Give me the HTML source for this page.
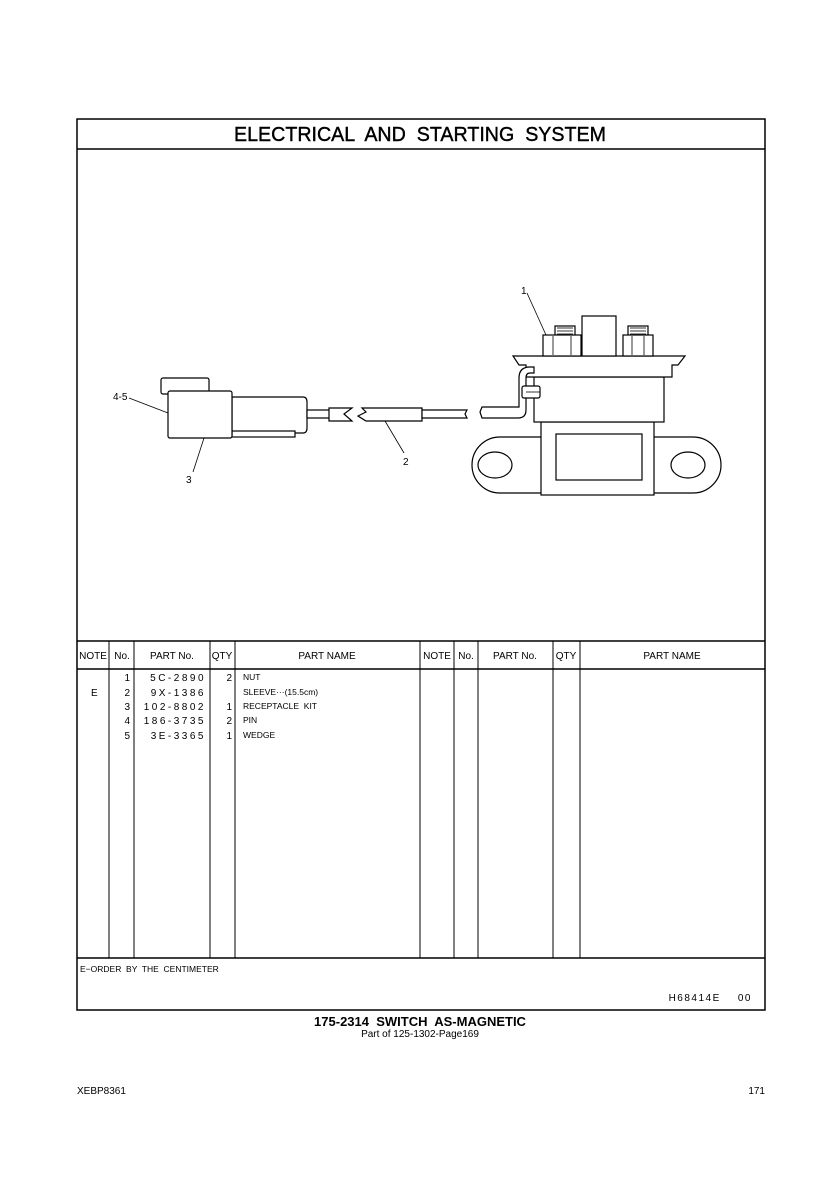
<!DOCTYPE html>
<html><head><meta charset="utf-8"><style>
html,body{margin:0;padding:0;background:#fff;}
svg{display:block;}
text{font-family:"Liberation Sans",sans-serif;fill:#000;white-space:pre;}
</style></head><body>
<svg width="840" height="1188" viewBox="0 0 840 1188" xmlns="http://www.w3.org/2000/svg" xml:space="preserve">
<g fill="none" stroke="#000" stroke-width="1.5">
<rect x="77" y="119" width="688" height="891"/>
<line x1="77" y1="149" x2="765" y2="149"/>
<line x1="77" y1="641" x2="765" y2="641"/>
<line x1="77" y1="669" x2="765" y2="669"/>
<line x1="77" y1="958" x2="765" y2="958"/>
</g>
<g stroke="#000" stroke-width="1">
<line x1="109" y1="641" x2="109" y2="958"/>
<line x1="134" y1="641" x2="134" y2="958"/>
<line x1="210" y1="641" x2="210" y2="958"/>
<line x1="235" y1="641" x2="235" y2="958"/>
<line x1="420" y1="641" x2="420" y2="958"/>
<line x1="454" y1="641" x2="454" y2="958"/>
<line x1="478" y1="641" x2="478" y2="958"/>
<line x1="553" y1="641" x2="553" y2="958"/>
<line x1="580" y1="641" x2="580" y2="958"/>
</g>
<text x="420" y="141" font-size="20" text-anchor="middle" stroke="#000" stroke-width="0.4" textLength="372" lengthAdjust="spacingAndGlyphs">ELECTRICAL  AND  STARTING  SYSTEM</text>
<g font-size="10" text-anchor="middle">
<text x="93" y="659">NOTE</text><text x="122" y="659">No.</text><text x="172" y="659">PART No.</text><text x="222" y="659">QTY</text><text x="327" y="659">PART NAME</text>
<text x="437" y="659">NOTE</text><text x="466" y="659">No.</text><text x="515" y="659">PART No.</text><text x="566" y="659">QTY</text><text x="672" y="659">PART NAME</text>
</g>
<g font-size="10">
<g text-anchor="end"><text x="130" y="681">1</text><text x="130" y="696">2</text><text x="130" y="710">3</text><text x="130" y="724">4</text><text x="130" y="739">5</text>
<text x="206" y="681" letter-spacing="2.5">5C-2890</text><text x="206" y="696" letter-spacing="2.5">9X-1386</text><text x="206" y="710" letter-spacing="2.5">102-8802</text><text x="206" y="724" letter-spacing="2.5">186-3735</text><text x="206" y="739" letter-spacing="2.5">3E-3365</text>
<text x="232" y="681">2</text><text x="232" y="710">1</text><text x="232" y="724">2</text><text x="232" y="739">1</text></g>
<text x="91" y="696">E</text>
<g font-size="8.5"><text x="243" y="680">NUT</text><text x="243" y="695">SLEEVE···(15.5cm)</text><text x="243" y="709">RECEPTACLE  KIT</text><text x="243" y="723">PIN</text><text x="243" y="738">WEDGE</text></g>
<text x="80" y="972" font-size="8.5">E−ORDER  BY  THE  CENTIMETER</text>
<text x="752" y="1001" font-size="10" text-anchor="end" letter-spacing="1.5">H68414E    00</text>
</g>
<text x="420" y="1026" font-size="13" text-anchor="middle" font-weight="bold">175-2314  SWITCH  AS-MAGNETIC</text>
<text x="420" y="1037" font-size="10" text-anchor="middle">Part of 125-1302-Page169</text>
<text x="77" y="1094" font-size="10">XEBP8361</text>
<text x="765" y="1094" font-size="10" text-anchor="end">171</text>

<g fill="#fff" stroke="#000" stroke-width="1.2">
<rect x="161" y="378" width="48" height="16" rx="2"/>
<path d="M232 397 H303 Q307 397 307 402 V428 Q307 433 303 433 H232 Z"/>
<rect x="232" y="431" width="63" height="6"/>
<rect x="168" y="391" width="64" height="47" rx="2"/>
<rect x="307" y="410" width="23" height="8"/>
<path d="M329 408 H352 L344 414 L352 421 H329 Z"/>
<path d="M362 408 H422 V421 H366 L358 416 L366 412 Z"/>
<path d="M422 410 H467 L465 414 L467 418 H422 Z"/>
<path d="M541 437 H500 A28 28 0 0 0 500 493 H541"/>
<path d="M654 437 H693 A28 28 0 0 1 693 493 H654"/>
<ellipse cx="495" cy="465" rx="17" ry="13"/>
<ellipse cx="688" cy="465" rx="17" ry="13"/>
<rect x="541" y="422" width="113" height="73"/>
<rect x="556" y="434" width="86" height="46"/>
<rect x="534" y="377" width="130" height="45"/>
<path d="M513 356 H685 L678 365 H672 V377 H526 V365 H519 Z"/>
<rect x="582" y="316" width="34" height="40"/>
<rect x="555" y="326" width="20" height="10"/>
<rect x="543" y="335" width="38" height="21"/>
<rect x="628" y="326" width="20" height="10"/>
<rect x="623" y="335" width="30" height="21"/>
<path d="M482 407 H519 V378 Q519 367 530 367 H534 V373 H530 Q526 373 526 378 V410 Q526 418 518 418 H482 L480 412 Z"/>
<rect x="522" y="386" width="18" height="12" rx="2"/>
</g>
<g stroke="#000" stroke-width="0.8" fill="none">
<line x1="557" y1="328" x2="573" y2="328"/><line x1="557" y1="331" x2="573" y2="331"/><line x1="557" y1="334" x2="573" y2="334"/>
<line x1="630" y1="328" x2="646" y2="328"/><line x1="630" y1="331" x2="646" y2="331"/><line x1="630" y1="334" x2="646" y2="334"/>
<line x1="553" y1="336" x2="553" y2="355"/><line x1="571" y1="336" x2="571" y2="355"/>
<line x1="632" y1="336" x2="632" y2="355"/><line x1="644" y1="336" x2="644" y2="355"/>
<line x1="526" y1="392" x2="540" y2="392"/>
<line x1="129" y1="398" x2="168" y2="413"/>
<line x1="204" y1="438" x2="193" y2="472"/>
<line x1="385" y1="421" x2="404" y2="453"/>
<line x1="527" y1="293" x2="546" y2="335"/>
</g>
<g font-size="10"><text x="113" y="400">4-5</text><text x="186" y="483">3</text><text x="403" y="465">2</text><text x="521" y="294">1</text></g>
</svg>
</body></html>
